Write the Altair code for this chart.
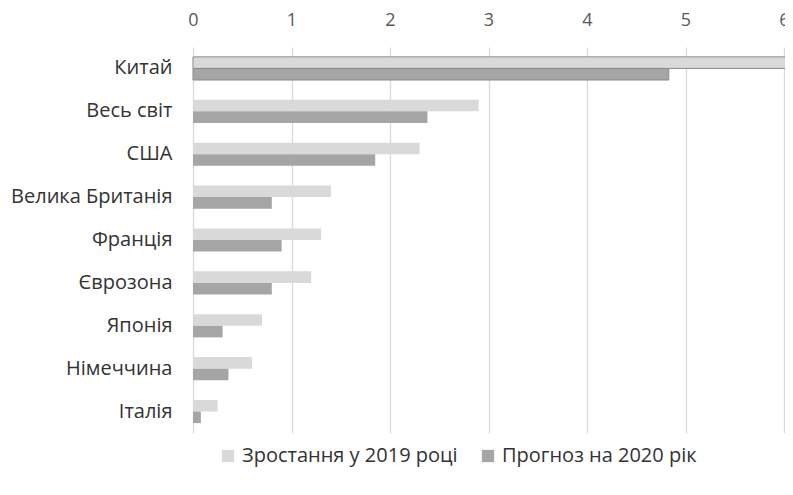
import altair as alt
import pandas as pd

categories = ["Китай", "Весь світ", "США", "Велика Британія", "Франція",
              "Єврозона", "Японія", "Німеччина", "Італія"]
growth_2019 = [6.1, 2.9, 2.3, 1.4, 1.3, 1.2, 0.7, 0.6, 0.25]
forecast_2020 = [4.83, 2.38, 1.85, 0.8, 0.9, 0.8, 0.3, 0.36, 0.08]
series = ["Зростання у 2019 році", "Прогноз на 2020 рік"]
colors = ["#d9d9d9", "#a5a5a5"]
x_ticks = [0, 1, 2, 3, 4, 5, 6]

rows = []
for c, a, b in zip(categories, growth_2019, forecast_2020):
    rows.append({"cat": c, "series": series[0], "value": a, "order": 0})
    rows.append({"cat": c, "series": series[1], "value": b, "order": 1})
df = pd.DataFrame(rows)

font = "Open Sans"

chart = alt.Chart(df).mark_bar(clip=False).encode(
    x=alt.X("value:Q",
            scale=alt.Scale(domain=[0, 6], nice=False, clamp=False),
            axis=alt.Axis(orient="top", values=x_ticks, title=None, domain=False,
                          ticks=False, grid=True, gridColor="#d9d9d9", gridWidth=1.3,
                          labelFont=font, labelFontSize=18, labelColor="#595959",
                          labelPadding=18, labelFlush=False, format="d")),
    y=alt.Y("cat:N", sort=categories,
            scale=alt.Scale(paddingInner=0.46, paddingOuter=0.23),
            axis=alt.Axis(title=None, domain=False, ticks=False, grid=False,
                          labelFont=font, labelFontSize=20, labelColor="#333333",
                          labelPadding=21, labelLimit=300)),
    yOffset=alt.YOffset("series:N", sort=series),
    color=alt.Color("series:N", sort=series,
                    scale=alt.Scale(domain=series, range=colors),
                    legend=alt.Legend(title=None, orient="none", direction="horizontal",
                                      legendX=25, legendY=399,
                                      symbolType="square", symbolSize=150,
                                      symbolStrokeWidth=0, labelLimit=400,
                                      labelFont=font, labelFontSize=20,
                                      labelColor="#333333", columnPadding=20,
                                      labelOffset=4)),
    stroke=alt.condition(alt.datum.cat == "Китай", alt.value("#8c8c8c"), alt.value(None)),
    strokeWidth=alt.value(1),
).properties(
    width=591, height=386,
    autosize=alt.AutoSizeParams(type="none"),
    padding={"left": 185, "top": 39, "right": 1, "bottom": 60},
).configure_view(stroke=None)

chart.save("out.html", embed_options={"renderer": "svg", "actions": False})
